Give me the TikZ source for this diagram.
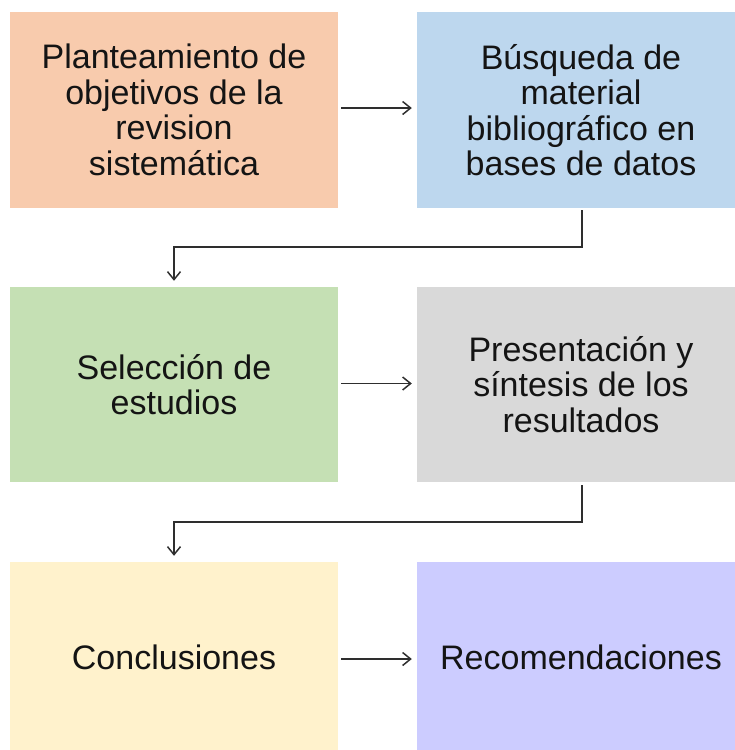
\documentclass[tikz,border=0pt]{standalone}
\usepackage{fontspec}
\setmainfont{Liberation Sans}
\usepackage{tikz}
\usetikzlibrary{arrows.meta}

\definecolor{cOrange}{HTML}{F8CBAD}
\definecolor{cBlue}{HTML}{BDD7EE}
\definecolor{cGreen}{HTML}{C5E0B4}
\definecolor{cGray}{HTML}{D9D9D9}
\definecolor{cYellow}{HTML}{FFF2CC}
\definecolor{cLilac}{HTML}{CCCCFF}
\definecolor{cText}{HTML}{141414}
\definecolor{cLine}{HTML}{2E2E2E}

\begin{document}
\begin{tikzpicture}[x=1pt,y=-1pt,
    box/.style={inner sep=0pt, align=center, text=cText,
      minimum width=328pt, minimum height=196pt,
      font=\fontsize{34}{35.5}\selectfont},
    arr/.style={draw=cLine, line width=1.5pt,
      -{Straight Barb[length=8pt,width=13pt]}}]

\useasboundingbox (0,0) rectangle (735,750);

% first row
\node[box, fill=cOrange] (plan) at (174,110)
  {Planteamiento de\\objetivos de la\\revision\\sistemática};
\node[box, fill=cBlue] (busq) at (581,110)
  {Búsqueda de\\material\\bibliográfico en\\bases de datos};

% second row
\node[box, fill=cGreen, minimum height=195pt] (sel) at (174,384.5)
  {Selección de\\estudios};
\node[box, fill=cGray, minimum height=195pt] (pres) at (581,384.5)
  {Presentación y\\síntesis de los\\resultados};

% third row
\node[box, fill=cYellow, minimum height=190pt] (conc) at (174,657)
  {Conclusiones};
\node[box, fill=cLilac, minimum height=190pt] (reco) at (581,657)
  {Recomendaciones};

\draw[arr] ([xshift=3pt,yshift=2pt]plan.east) -- ([xshift=-5pt,yshift=2pt]busq.west);
\draw[arr] ([xshift=3pt,yshift=1pt]sel.east) -- ([xshift=-5pt,yshift=1pt]pres.west);
\draw[arr] ([xshift=3pt,yshift=-2pt]conc.east) -- ([xshift=-5pt,yshift=-2pt]reco.west);

\draw[arr] ([xshift=1pt,yshift=-2pt]busq.south) -- ++(0,37) -| ([yshift=6pt]sel.north);
\draw[arr] ([xshift=1pt,yshift=-3pt]pres.south) -- ++(0,37) -| ([yshift=6pt]conc.north);

\end{tikzpicture}
\end{document}
